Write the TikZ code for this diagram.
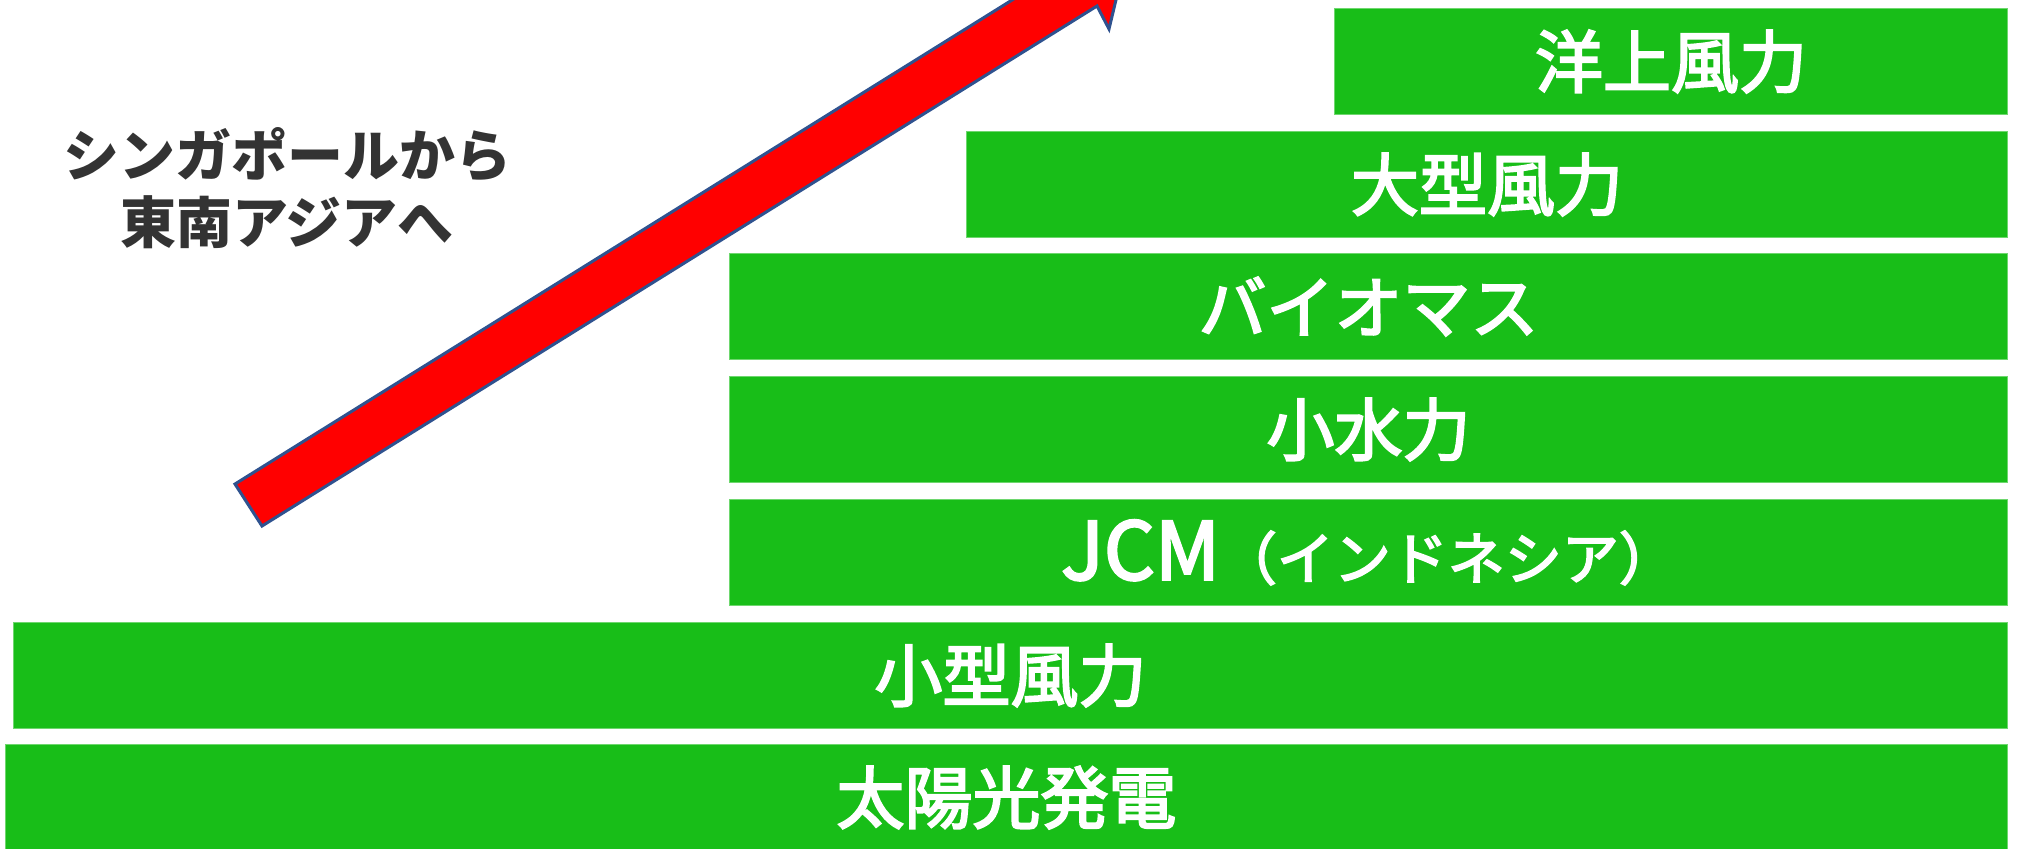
\documentclass[tikz,border=0pt]{standalone}
\usepackage{fontspec}
\newfontfamily\jp{Noto Sans CJK JP}
\newfontfamily\jpmed[FakeBold=3]{Noto Sans CJK JP}
\definecolor{boxgreen}{RGB}{24,190,24}
\definecolor{boxedge}{RGB}{110,215,110}
\definecolor{arrowred}{RGB}{255,0,0}
\definecolor{arrowedge}{RGB}{47,82,143}
\definecolor{darktext}{RGB}{51,51,51}
\begin{document}
\begin{tikzpicture}[x=0.5pt,y=-0.5pt,
  levelbox/.style={rectangle, fill=boxgreen, draw=boxedge, line width=0.5pt,
    anchor=north west, inner sep=0pt, minimum height=53pt,
    text=white, font=\jpmed\fontsize{34}{40}\selectfont},
  sidelabel/.style={align=center, text=darktext, inner sep=0pt,
    font=\jp\bfseries\fontsize{28}{33.5}\selectfont}]
\useasboundingbox (0,0) rectangle (2017,848);
\clip (0,0) rectangle (2017,848);
\fill[white] (0,0) rectangle (2017,848);

% arrow
\coordinate (p1) at (262,526);
\coordinate (p2) at (1097,6);
\coordinate (p3) at (1109,29);
\coordinate (p4) at (1126,-42);
\coordinate (p5) at (1057,-58);
\coordinate (p6) at (1070.5,-36.4);
\coordinate (p7) at (235,484);
\filldraw[fill=arrowred, draw=arrowedge, line width=1.5pt, line join=miter]
  (p1) -- (p2) -- (p3) -- (p4) -- (p5) -- (p6) -- (p7) -- cycle;

% boxes
\node[levelbox, minimum width=336.5pt] (b1) at (1334,8) {洋上風力};
\node[levelbox, minimum width=520.5pt] (b2) at (966,131) {大型風力};
\node[levelbox, minimum width=639pt] (b3) at (729,253) {バイオマス};
\node[levelbox, minimum width=639pt] (b4) at (729,376) {小水力};
\node[levelbox, minimum width=639pt] (b5) at (729,499)
  {{\fontsize{40}{40}\selectfont JCM}{\fontsize{28.5}{40}\selectfont （インドネシア）}};
\node[levelbox, minimum width=997pt] (b6) at (13,622) {小型風力};
\node[levelbox, minimum width=1001pt] (b7) at (5,744) {太陽光発電};

% side label
\node[sidelabel] (lbl) at (287,188) {シンガポールから\\東南アジアへ};
\end{tikzpicture}
\end{document}
